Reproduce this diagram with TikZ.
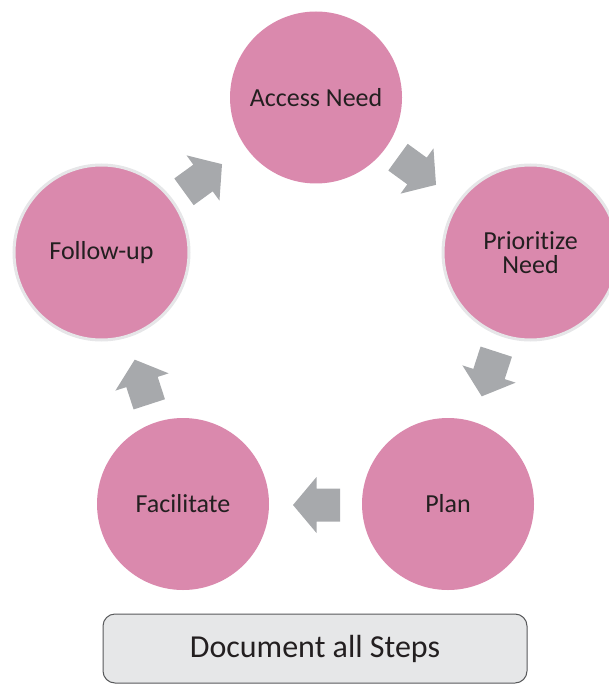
\documentclass[tikz,border=0pt]{standalone}
\usepackage{fontspec}
\setmainfont[Ligatures={NoCommon}]{Carlito}
\definecolor{pinkfill}{HTML}{DA89AD}
\definecolor{ringgray}{HTML}{E6E6E8}
\definecolor{arrowgray}{HTML}{A7A9AC}
\definecolor{boxfill}{HTML}{E6E7E8}
\definecolor{boxline}{HTML}{58595B}
\definecolor{txt}{HTML}{231F20}
\tikzset{
  stepcircle/.style={circle, fill=pinkfill, minimum size=172pt, inner sep=0pt,
    text=txt, align=center, font=\fontsize{26}{24}\selectfont},
  ringed/.style={draw=ringgray, line width=3pt, minimum size=175pt},
  blockarrow/.pic={\fill[arrowgray] (-23.5,-16.5) -- (0,-16.5) -- (0,-28) -- (23.5,0)
     -- (0,28) -- (0,16.5) -- (-23.5,16.5) -- cycle;},
  docbox/.style={draw=boxline, line width=1pt, fill=boxfill, rounded corners=12pt,
    minimum width=424pt, minimum height=69pt, inner sep=0pt, text=txt,
    font=\fontsize{32}{36}\selectfont}
}
\begin{document}
\begin{tikzpicture}[x=1pt,y=-1pt]
\useasboundingbox (0,0) rectangle (608,684);
\node[stepcircle] (an) at (316,97.5) {Access Need};
\node[stepcircle,ringed] (pn) at (530.5,252.5) {Prioritize\\Need};
\node[stepcircle] (pl) at (448,504) {Plan};
\node[stepcircle] (fa) at (183,504) {Facilitate};
\node[stepcircle,ringed] (fu) at (101.5,252.5) {Follow-up};
\pic[rotate=36] at (203,178) {blockarrow};
\pic[rotate=-36] at (417,171) {blockarrow};
\pic[rotate=-108] at (489,374) {blockarrow};
\pic[rotate=180] at (316.5,505) {blockarrow};
\pic[rotate=108] at (142,382) {blockarrow};
\node[docbox] (doc) at (315,648.5) {Document all Steps};
\end{tikzpicture}
\end{document}
